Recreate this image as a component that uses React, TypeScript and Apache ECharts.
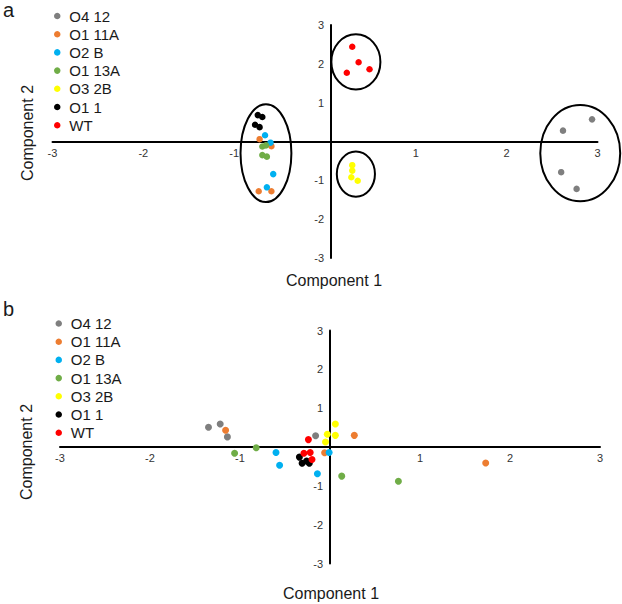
import React, { useEffect, useRef } from "react";
import * as echarts from "echarts";

const seriesNames = ["O4 12", "O1 11A", "O2 B", "O1 13A", "O3 2B", "O1 1", "WT"];
const seriesColors = ["#7f7f7f", "#ed7d31", "#00b0f0", "#70ad47", "#ffff00", "#000000", "#ff0000"];

// Panel a values [component 1, component 2]
const aO412 = [[2.94, 0.57], [2.62, 0.28], [2.6, -0.79], [2.77, -1.22]];
const aO111A = [[-0.72, 0.06], [-0.59, -0.12], [-0.73, -1.28], [-0.59, -1.28]];
const aO2B = [[-0.66, 0.16], [-0.6, -0.03], [-0.57, -0.84], [-0.64, -1.18]];
const aO113A = [[-0.69, -0.13], [-0.65, -0.1], [-0.69, -0.35], [-0.64, -0.39]];
const aO32B = [[0.3, -0.61], [0.3, -0.75], [0.29, -0.92], [0.36, -1.01]];
const aO11 = [[-0.74, 0.68], [-0.69, 0.63], [-0.77, 0.43], [-0.72, 0.37]];
const aWT = [[0.3, 2.44], [0.37, 2.04], [0.49, 1.86], [0.24, 1.77]];

// Panel a cluster ellipses [cx, cy, rx, ry] in data units
const aEllipses = [
  [-0.65, -0.3, 0.28, 1.26],
  [0.34, 2.05, 0.27, 0.71],
  [0.34, -0.84, 0.21, 0.58],
  [2.81, -0.3, 0.44, 1.24],
];

// Panel b values
const bO412 = [[-1.35, 0.51], [-1.22, 0.59], [-1.14, 0.26], [-0.16, 0.29]];
const bO111A = [[-1.16, 0.43], [0.27, 0.3], [-0.06, -0.15], [1.73, -0.41]];
const bO2B = [[-0.6, -0.14], [-0.56, -0.47], [-0.14, -0.69], [-0.01, -0.14]];
const bO113A = [[-1.06, -0.16], [-0.82, -0.02], [0.13, -0.75], [0.76, -0.88]];
const bO32B = [[0.06, 0.59], [-0.03, 0.33], [0.06, 0.3], [-0.05, 0.13]];
const bO11 = [[-0.34, -0.26], [-0.31, -0.42], [-0.26, -0.36], [-0.23, -0.42]];
const bWT = [[-0.24, 0.19], [-0.29, -0.16], [-0.22, -0.14], [-0.2, -0.32]];

const panelAData = [aO412, aO111A, aO2B, aO113A, aO32B, aO11, aWT];
const panelBData = [bO412, bO111A, bO2B, bO113A, bO32B, bO11, bWT];

const FONT = "'Liberation Sans', Arial, sans-serif";
const TEXT = "#1a1a1a";

function makeXAxis(gridIndex: number, margin: number, offset: number) {
  return {
    type: "value",
    gridIndex,
    min: -3,
    max: 3,
    interval: 1,
    position: "bottom",
    offset,
    axisLine: { show: true, onZero: false, lineStyle: { color: "#000", width: 2 } },
    axisTick: { show: false },
    splitLine: { show: false },
    axisLabel: {
      margin,
      fontSize: 11,
      fontFamily: FONT,
      color: "#333",
      showMinLabel: true,
      showMaxLabel: true,
      formatter: (v: number) => (v === 0 ? "" : String(v)),
    },
  };
}

function makeYAxis(gridIndex: number, offset: number) {
  return {
    type: "value",
    gridIndex,
    min: -3,
    max: 3,
    interval: 1,
    position: "left",
    offset,
    axisLine: { show: true, onZero: false, lineStyle: { color: "#000", width: 2 } },
    axisTick: { show: false },
    splitLine: { show: false },
    axisLabel: {
      margin: 7,
      fontSize: 11,
      fontFamily: FONT,
      color: "#333",
      showMinLabel: true,
      showMaxLabel: true,
      formatter: (v: number) => (v === 0 ? "" : String(v)),
    },
  };
}

function makeLegend(left: number, top: number) {
  return {
    orient: "vertical",
    left,
    top,
    data: seriesNames.map((n) => ({ name: n, icon: "circle" })),
    itemWidth: 14,
    itemHeight: 6.5,
    itemGap: 3.2,
    selectedMode: false,
    textStyle: { fontSize: 15, fontFamily: FONT, color: TEXT, lineHeight: 15 },
  };
}

export default function App() {
  const ref = useRef<HTMLDivElement>(null);

  useEffect(() => {
    if (!ref.current) return;
    const chart = echarts.init(ref.current, undefined, { renderer: "svg" });

    const scatterA = seriesNames.map((name, i) => ({
      name,
      type: "scatter",
      xAxisIndex: 0,
      yAxisIndex: 0,
      symbol: "circle",
      symbolSize: 6.5,
      itemStyle: { color: seriesColors[i], opacity: 1 },
      data: panelAData[i],
      z: 3,
    }));
    const scatterB = seriesNames.map((name, i) => ({
      name,
      type: "scatter",
      xAxisIndex: 1,
      yAxisIndex: 1,
      symbol: "circle",
      symbolSize: 7,
      itemStyle: { color: seriesColors[i], opacity: 1 },
      data: panelBData[i],
      z: 3,
    }));

    const ellipseSeries = {
      type: "custom",
      name: "clusters",
      xAxisIndex: 0,
      yAxisIndex: 0,
      clip: false,
      silent: true,
      z: 2,
      encode: { x: 0, y: 1 },
      data: aEllipses,
      renderItem: (_params: any, api: any) => {
        const c = api.coord([api.value(0), api.value(1)]);
        const s = api.size([api.value(2), api.value(3)]);
        return {
          type: "ellipse",
          shape: { cx: c[0], cy: c[1], rx: s[0], ry: s[1] },
          style: { fill: "none", stroke: "#000", lineWidth: 2 },
        };
      },
    };

    const option: any = {
      animation: false,
      backgroundColor: "#fff",
      grid: [
        { left: 52.5, width: 545, top: 25, height: 233 },
        { left: 60, width: 540, top: 330.5, height: 233 },
      ],
      xAxis: [makeXAxis(0, 6, -116.5), makeXAxis(1, 5, -116.5)],
      yAxis: [makeYAxis(0, -278.5), makeYAxis(1, -270)],
      legend: [makeLegend(49, 3.5), makeLegend(50.5, 311)],
      graphic: [
        { type: "text", x: 3, y: 10, style: { text: "a", fontSize: 20, fontFamily: FONT, fill: TEXT, verticalAlign: "middle" } },
        { type: "text", x: 3, y: 308.5, style: { text: "b", fontSize: 20, fontFamily: FONT, fill: TEXT, verticalAlign: "middle" } },
        { type: "text", x: 334, y: 280, style: { text: "Component 1", fontSize: 16, fontFamily: FONT, fill: TEXT, align: "center", verticalAlign: "middle" } },
        { type: "text", x: 27, y: 133, rotation: Math.PI / 2, style: { text: "Component 2", fontSize: 16, fontFamily: FONT, fill: TEXT, align: "center", verticalAlign: "middle" } },
        { type: "text", x: 331, y: 593, style: { text: "Component 1", fontSize: 16, fontFamily: FONT, fill: TEXT, align: "center", verticalAlign: "middle" } },
        { type: "text", x: 26, y: 452, rotation: Math.PI / 2, style: { text: "Component 2", fontSize: 16, fontFamily: FONT, fill: TEXT, align: "center", verticalAlign: "middle" } },
      ],
      series: [ellipseSeries, ...scatterA, ...scatterB],
    };
    chart.setOption(option);
    return () => chart.dispose();
  }, []);

  return (
    <div
      ref={ref}
      style={{ position: "absolute", left: 0, top: 0, width: 622, height: 604, background: "#fff" }}
    />
  );
}
